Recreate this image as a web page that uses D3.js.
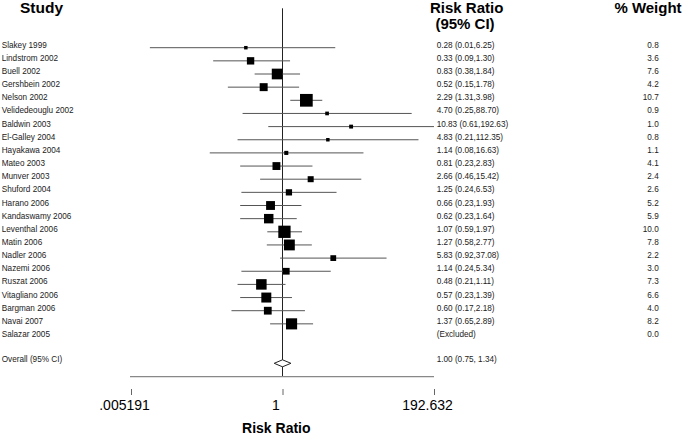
<!DOCTYPE html>
<html><head><meta charset="utf-8">
<script src="https://cdn.jsdelivr.net/npm/d3@7"></script>
<style>body{margin:0;background:#fff}svg{display:block}text{font-family:"Liberation Sans",Arial,sans-serif}</style>
</head><body>
<svg id="c" width="684" height="436"></svg>
<script>
const studies = ["Slakey 1999","Lindstrom 2002","Buell 2002","Gershbein 2002","Nelson 2002","Velidedeouglu 2002","Baldwin 2003","El-Galley 2004","Hayakawa 2004","Mateo 2003","Munver 2003","Shuford 2004","Harano 2006","Kandaswamy 2006","Leventhal 2006","Matin 2006","Nadler 2006","Nazemi 2006","Ruszat 2006","Vitagliano 2006","Bargman 2006","Navai 2007","Salazar 2005"];
const rr   = [0.28,0.33,0.83,0.52,2.29,4.70,10.83,4.83,1.14,0.81,2.66,1.25,0.66,0.62,1.07,1.27,5.83,1.14,0.48,0.57,0.60,1.37,null];
const lower= [0.01,0.09,0.38,0.15,1.31,0.25,0.61,0.21,0.08,0.23,0.46,0.24,0.23,0.23,0.59,0.58,0.92,0.24,0.21,0.23,0.17,0.65,null];
const upper= [6.25,1.30,1.84,1.78,3.98,88.70,192.63,112.35,16.63,2.83,15.42,6.53,1.93,1.64,1.97,2.77,37.08,5.34,1.11,1.39,2.18,2.89,null];
const weight=[0.8,3.6,7.6,4.2,10.7,0.9,1.0,0.8,1.1,4.1,2.4,2.6,5.2,5.9,10.0,7.8,2.2,3.0,7.3,6.6,4.0,8.2,0.0];
const overall = {label:"Overall (95% CI)", rr:1.00, lower:0.75, upper:1.34, text:"1.00 (0.75, 1.34)"};
const tickValues = [0.005191, 1, 192.632];
const tickLabels = [".005191", "1", "192.632"];

const svg = d3.select("#c");
const x = d3.scaleLog().domain([0.005191, 192.632]).range([131, 434]);
const y = d3.scaleLinear().domain([0, 24]).range([47.7, 363.3]);
const side = d3.scaleSqrt().domain([0, 10.7]).range([0, 12.7]);

const fs = 8.2;
// headers
svg.append("text").attr("x",20).attr("y",12.7).attr("font-size",15.5).attr("font-weight","bold").text("Study");
svg.append("text").attr("x",466.7).attr("y",12.5).attr("text-anchor","middle").attr("font-size",15).attr("font-weight","bold").text("Risk Ratio");
svg.append("text").attr("x",465).attr("y",29.3).attr("text-anchor","middle").attr("font-size",15).attr("font-weight","bold").text("(95% CI)");
svg.append("text").attr("x",648).attr("y",12.5).attr("text-anchor","middle").attr("font-size",15).attr("font-weight","bold").text("% Weight");

// null line
svg.append("line").attr("x1",x(1)).attr("x2",x(1)).attr("y1",8.3).attr("y2",376.7).attr("stroke","#222").attr("stroke-width",1);

// rows
const rows = svg.append("g").selectAll("g").data(studies.map((s,i)=>({s,i,rr:rr[i],lo:lower[i],hi:upper[i],w:weight[i]}))).join("g");
rows.append("text").attr("x",1.7).attr("y",d=>y(d.i)).attr("font-size",fs).attr("fill","#222").text(d=>d.s);
rows.append("text").attr("x",436.7).attr("y",d=>y(d.i)).attr("font-size",fs).attr("fill","#222")
  .text(d=>d.rr==null?"(Excluded)":`${d.rr.toFixed(2)} (${d.lo.toFixed(2)},${d.hi.toFixed(2)})`);
rows.append("text").attr("x",658.7).attr("y",d=>y(d.i)).attr("text-anchor","end").attr("font-size",fs).attr("fill","#222").text(d=>d.w.toFixed(1));
const valid = rows.filter(d=>d.rr!=null);
valid.append("line").attr("x1",d=>x(d.lo)).attr("x2",d=>x(d.hi)).attr("y1",d=>y(d.i)).attr("y2",d=>y(d.i)).attr("stroke","#555").attr("stroke-width",1);
valid.append("rect").attr("x",d=>x(d.rr)-side(d.w)/2).attr("y",d=>y(d.i)-side(d.w)/2)
  .attr("width",d=>side(d.w)).attr("height",d=>side(d.w)).attr("fill","#000");

// overall
const oy = y(24);
svg.append("text").attr("x",1.7).attr("y",oy-1.5).attr("font-size",fs).attr("fill","#222").text(overall.label);
svg.append("text").attr("x",436.7).attr("y",oy-1.5).attr("font-size",fs).attr("fill","#222").text(overall.text);
svg.append("path").attr("d",`M${x(overall.lower)},${oy} L${x(overall.rr)},${oy-3.5} L${x(overall.upper)},${oy} L${x(overall.rr)},${oy+3.5} Z`)
  .attr("fill","#fff").attr("stroke","#222").attr("stroke-width",1);

// axis
svg.append("line").attr("x1",x.range()[0]-1).attr("x2",x.range()[1]).attr("y1",376.7).attr("y2",376.7).attr("stroke","#888").attr("stroke-width",1.3);
const ax = svg.append("g").attr("transform","translate(0,389)")
  .call(d3.axisBottom(x).tickValues(tickValues).tickSize(6).tickFormat((d,i)=>tickLabels[i]));
ax.select(".domain").remove();
ax.selectAll(".tick line").attr("stroke","#666");
ax.selectAll(".tick text").attr("font-size",14).attr("font-family","Liberation Sans, Arial, sans-serif")
  .attr("fill","#000").attr("y",20.5).attr("dy",0).attr("dx",-7);
svg.append("text").attr("x",276.3).attr("y",433).attr("text-anchor","middle").attr("font-size",14).attr("font-weight","bold").text("Risk Ratio");
</script>
</body></html>
